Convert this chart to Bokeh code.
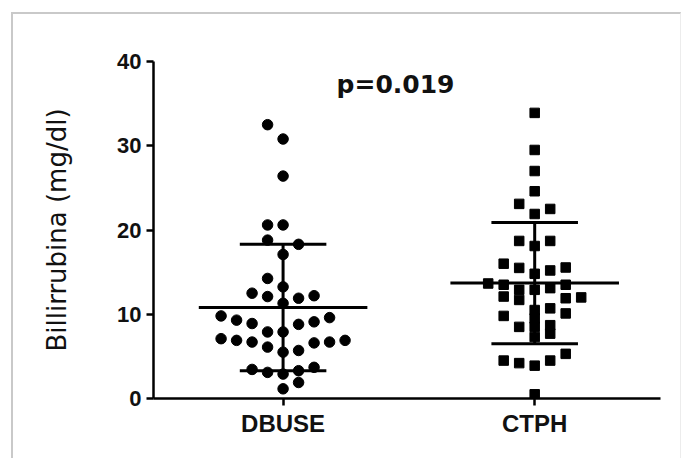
import numpy as np
from bokeh.plotting import figure
from bokeh.models import FixedTicker, Label, Range1d, ColumnDataSource
from bokeh.embed import file_html
from bokeh.resources import INLINE

# ---------------- data ----------------
groups = ["DBUSE", "CTPH"]
y_ticks = [0, 10, 20, 30, 40]
p_text = "p=0.019"
y_label = "Billirrubina (mg/dl)"

dbuse_values = [32.5, 30.8, 26.4,
                20.6, 20.6, 18.8, 18.3, 17.1,
                14.25, 13.25, 12.5, 12.1, 11.9, 12.2, 11.3,
                9.8, 9.3, 8.9, 8.8, 9.1, 9.6,
                7.9, 7.9,
                7.1, 6.9, 6.7, 6.1, 5.5, 5.7, 6.6, 6.7, 6.9,
                3.45, 3.1, 2.9, 3.3, 3.7,
                1.9, 1.15]
dbuse_slots = [-1, 0, 0,
               -1, 0, -1, 1, 0,
               -1, 0, -2, -1, 1, 2, 0,
               -4, -3, -2, 1, 2, 3,
               -1, 0,
               -4, -3, -2, -1, 0, 1, 2, 3, 4,
               -2, -1, 0, 1, 2,
               1, 0]

ctph_values = [33.9, 29.5, 27.0, 24.6,
               23.1, 22.5, 21.9,
               18.7, 18.7, 18.1,
               16.0, 15.5, 15.2, 15.55, 14.8,
               13.65, 13.5, 12.9, 11.7, 13.1, 13.5, 12.1, 11.9, 12.0, 12.9,
               10.7, 10.1, 9.8, 10.5, 9.5,
               8.5, 8.5, 8.7, 7.7, 7.3,
               5.3, 4.5, 4.2, 3.9, 4.5,
               0.5]
ctph_slots = [0, 0, 0, 0,
              -1, 1, 0,
              -1, 1, 0,
              -2, -1, 1, 2, 0,
              -3, -2, -1, -1, 1, 2, -2, 2, 3, 0,
              1, 2, -2, 0, 0,
              -1, 0, 1, 1, 0,
              2, -2, -1, 0, 1,
              0]

group_means = [10.8, 13.7]
group_sds = [7.5, 7.2]

# ---------------- style constants ----------------
SLOT_W = 0.0616
MEAN_HALF = 0.335
SD_HALF = 0.172

p = figure(width=670, height=446, output_backend="svg", toolbar_location=None,
           x_range=Range1d(0.485, 2.5), y_range=Range1d(0, 40),
           min_border_left=140, min_border_right=23, min_border_top=47,
           min_border_bottom=62, background_fill_color="white",
           border_fill_color="white")
p.styles = {"margin-left": "11px", "margin-top": "12px",
            "border-top": "2px solid #c9c9c9", "border-left": "2px solid #c9c9c9",
            "border-right": "1px solid #ececec"}
p.outline_line_color = None
p.xgrid.visible = False
p.ygrid.visible = False

pos = {g: i + 1 for i, g in enumerate(groups)}

# points
src_d = ColumnDataSource(dict(x=[pos["DBUSE"] + s * SLOT_W for s in dbuse_slots], y=dbuse_values))
src_c = ColumnDataSource(dict(x=[pos["CTPH"] + s * SLOT_W for s in ctph_slots], y=ctph_values))
p.scatter("x", "y", source=src_d, marker="circle", size=10.5, fill_color="black", line_color="black")
p.scatter("x", "y", source=src_c, marker="square", size=9.5, fill_color="black", line_color="black")

# mean and SD lines
xc = [pos[g] for g in groups]
m = np.array(group_means)
s = np.array(group_sds)
p.segment(x0=[x - MEAN_HALF for x in xc], x1=[x + MEAN_HALF for x in xc], y0=m, y1=m,
          line_color="black", line_width=3)
p.segment(x0=[x - SD_HALF for x in xc], x1=[x + SD_HALF for x in xc], y0=m + s, y1=m + s,
          line_color="black", line_width=3)
p.segment(x0=[x - SD_HALF for x in xc], x1=[x + SD_HALF for x in xc], y0=m - s, y1=m - s,
          line_color="black", line_width=3)
p.segment(x0=xc, x1=xc, y0=m - s, y1=m + s, line_color="black", line_width=3)

# axes
xa = p.xaxis[0]
xa.ticker = FixedTicker(ticks=xc)
xa.major_label_overrides = {pos[g]: g for g in groups}
xa.major_label_text_font = "Liberation Sans"
xa.major_label_text_font_style = "bold"
xa.major_label_text_font_size = "24px"
xa.major_label_text_color = "#111111"
xa.major_label_standoff = 4
xa.axis_line_width = 2.5
xa.major_tick_line_width = 2.5
xa.major_tick_out = 7
xa.major_tick_in = 0
xa.minor_tick_line_color = None

ya = p.yaxis[0]
ya.ticker = FixedTicker(ticks=y_ticks)
ya.major_label_text_font = "Liberation Sans"
ya.major_label_text_font_style = "bold"
ya.major_label_text_font_size = "22px"
ya.major_label_text_color = "#111111"
ya.major_label_standoff = 5
ya.axis_line_width = 2.5
ya.major_tick_line_width = 2.5
ya.major_tick_out = 7
ya.major_tick_in = 0
ya.minor_tick_line_color = None
ya.axis_label = y_label
ya.axis_label_text_font = "DejaVu Sans"
ya.axis_label_text_font_style = "normal"
ya.axis_label_text_font_size = "26px"
ya.axis_label_text_color = "#111111"
ya.axis_label_standoff = 42

p.add_layout(Label(x=1.447, y=37.3, text=p_text, text_align="center",
                   text_baseline="middle", text_font="DejaVu Sans",
                   text_font_style="bold", text_font_size="25px",
                   text_color="#111111"))

open("out.html", "w").write(file_html(p, INLINE))
